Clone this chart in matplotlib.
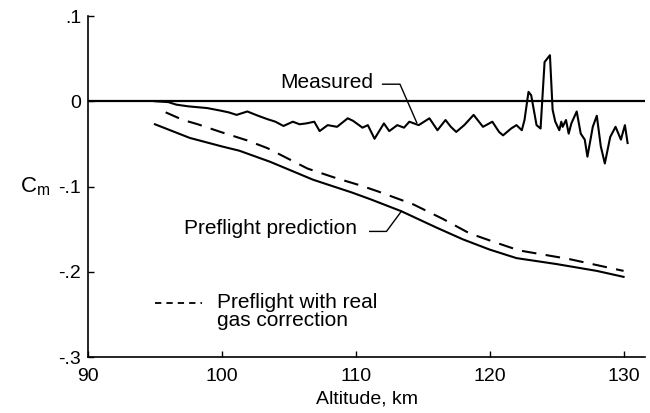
import numpy as np
import matplotlib
matplotlib.use("Agg")
import matplotlib.pyplot as plt

plt.rcParams['font.family'] = ['Liberation Sans', 'DejaVu Sans']

# Measured pitching moment vs altitude
alt_meas = [95.0, 96.0, 96.6, 97.5, 98.9, 99.9, 100.5, 101.1, 101.9, 102.7, 103.4,
            104.0, 104.6, 105.3, 105.8, 106.3, 106.9, 107.3, 107.9, 108.6, 109.4,
            109.8, 110.5, 110.9, 111.4, 112.1, 112.5, 113.1, 113.6, 114.0, 114.7,
            115.5, 116.1, 116.7, 117.1, 117.5, 118.1, 118.8, 119.5, 120.2, 120.7,
            121.0, 121.6, 122.0, 122.4, 122.6, 122.9, 123.1, 123.5, 123.8, 124.1,
            124.5, 124.7, 124.9, 125.2, 125.35, 125.45, 125.7, 125.9, 126.1, 126.5,
            126.8, 127.1, 127.3, 127.7, 128.0, 128.3, 128.6, 129.0, 129.4, 129.8,
            130.1, 130.3]
cm_meas = [0.000, -0.001, -0.004, -0.006, -0.008, -0.011, -0.013, -0.016, -0.012, -0.017, -0.021,
           -0.024, -0.029, -0.024, -0.027, -0.026, -0.024, -0.035, -0.028, -0.030, -0.020,
           -0.023, -0.031, -0.028, -0.044, -0.026, -0.035, -0.028, -0.031, -0.024, -0.028,
           -0.020, -0.034, -0.022, -0.030, -0.036, -0.028, -0.016, -0.030, -0.024, -0.036,
           -0.040, -0.032, -0.028, -0.034, -0.022, 0.011, 0.007, -0.028, -0.032, 0.046,
           0.054, -0.010, -0.024, -0.034, -0.024, -0.030, -0.022, -0.038, -0.026, -0.012,
           -0.038, -0.045, -0.065, -0.030, -0.017, -0.053, -0.073, -0.042, -0.030, -0.045,
           -0.028, -0.049]

# Preflight prediction
alt_pred = [95.0, 97.6, 100.0, 101.3, 103.6, 106.8, 109.7, 111.1, 113.4, 116.0,
            118.0, 120.0, 122.0, 125.0, 128.0, 130.0]
cm_pred = [-0.027, -0.043, -0.053, -0.058, -0.071, -0.092, -0.107, -0.115, -0.129, -0.148,
           -0.162, -0.174, -0.184, -0.191, -0.199, -0.206]

# Preflight with real gas correction
alt_gas = [95.8, 97.1, 98.2, 99.9, 101.9, 103.4, 104.9, 106.4, 108.5, 110.4,
           111.7, 114.3, 116.5, 118.5, 120.5, 122.2, 125.9, 130.0]
cm_gas = [-0.013, -0.022, -0.027, -0.036, -0.046, -0.055, -0.067, -0.079, -0.090, -0.099,
          -0.106, -0.121, -0.138, -0.155, -0.166, -0.175, -0.185, -0.199]

x_ticks = [90, 100, 110, 120, 130]
y_ticks = [0.1, 0, -0.1, -0.2, -0.3]
y_ticklabels = ['.1', '0', '-.1', '-.2', '-.3']

fig = plt.figure(figsize=(6.5, 4.13), dpi=100)
ax = fig.add_axes([88/650, 1 - 357/413, (645 - 88)/650, (357 - 16)/413])

ax.axhline(0, color='black', lw=1.6)
ax.plot(alt_meas, cm_meas, color='black', lw=1.5)
ax.plot(alt_pred, cm_pred, color='black', lw=1.5)
ax.plot(alt_gas, cm_gas, color='black', lw=1.5, linestyle=(0, (7, 4.5)))

ax.set_xlim(90, 131.6)
ax.set_ylim(-0.3, 0.1)
ax.set_xticks(x_ticks)
ax.set_yticks(y_ticks)
ax.set_yticklabels(y_ticklabels)
ax.tick_params(direction='in', length=4, width=1, labelsize=14, colors='black')
ax.tick_params(axis='x', pad=8)
ax.tick_params(axis='y', pad=5)
for s in ['top', 'right']:
    ax.spines[s].set_visible(False)
for s in ['left', 'bottom']:
    ax.spines[s].set_linewidth(1.2)

ax.set_xlabel('Altitude, km', fontsize=14, labelpad=4)
ax.set_ylabel(r'$\mathregular{C_m}$', fontsize=16, rotation=0, labelpad=17, va='center')

# annotations
ax.text(107.8, 0.0217, 'Measured', fontsize=15, ha='center', va='center')
ax.plot([112.0, 113.3, 114.55], [0.020, 0.020, -0.025], color='black', lw=1)

ax.text(103.66, -0.1496, 'Preflight prediction', fontsize=15, ha='center', va='center')
ax.plot([111.04, 112.29, 113.41], [-0.1527, -0.1527, -0.129], color='black', lw=1)

ax.plot([95.0, 98.5], [-0.2367, -0.2367], color='black', lw=1.3, linestyle=(0, (3.5, 2.8)))
ax.text(99.63, -0.2246, 'Preflight with real\ngas correction', fontsize=15,
        ha='left', va='top', linespacing=0.95)

fig.savefig('out.png', dpi=100)
